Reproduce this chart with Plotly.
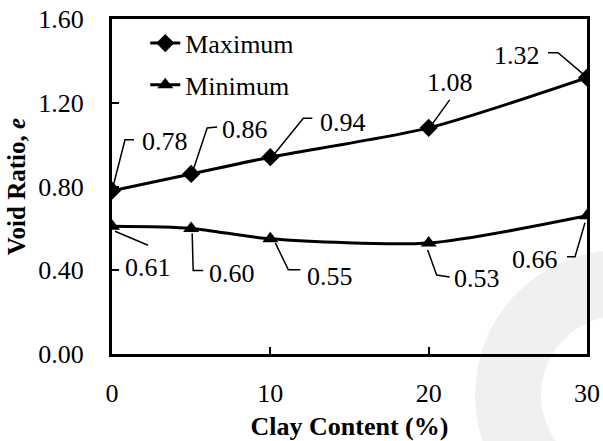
import plotly.graph_objects as go

# ---- data ----
clay_content = [0, 5, 10, 20, 30]
e_max = [0.78, 0.86, 0.94, 1.08, 1.32]
e_min = [0.61, 0.60, 0.55, 0.53, 0.66]
y_ticks = [0.0, 0.4, 0.8, 1.2, 1.6]
x_ticks = [0, 10, 20, 30]

FONT = "Liberation Serif"
FS = 26

fig = go.Figure()
fig.add_trace(go.Scatter(
    x=clay_content, y=e_max, name="Maximum", mode="lines+markers", legendgroup="max",
    line=dict(color="black", width=3, shape="spline", smoothing=0.7),
    marker=dict(symbol="diamond", size=14, color="black"),
))
fig.add_trace(go.Scatter(
    x=clay_content, y=e_min, name="Minimum", mode="lines+markers", legendgroup="min",
    line=dict(color="black", width=3, shape="spline", smoothing=0.7),
    marker=dict(symbol="triangle-up", size=14, color="black"),
))

# leader-line geometry (pixel offsets from each point, +down) and label offsets
max_leaders = [
    ([(1, -4), (13, -51), (22, -51)], (53, -49)),
    ([(2, -4), (16, -46), (26, -47)], (54, -44)),
    ([(3, -2), (33, -39), (42, -39)], (73, -35)),
    ([(21, -28), (3, -3)], (21, -45)),
    ([(-39, -25), (-29, -25), (-2, -2)], (-70, -22)),
]
min_leaders = [
    ([(3, 5), (36, 19)], (36, 41)),
    ([(1, 5), (2, 42), (12, 42)], (41, 45)),
    ([(5, 4), (18, 31), (30, 31)], (60, 38)),
    ([(-1, 7), (8, 32), (21, 34)], (48, 35)),
    ([(-2, 7), (-12, 41), (-20, 41)], (-52, 44)),
]

shapes = []
annotations = []
for xs, ys, leaders in ((clay_content, e_max, max_leaders), (clay_content, e_min, min_leaders)):
    for xv, yv, (pts, (tx, ty)) in zip(xs, ys, leaders):
        path = "M" + " L".join(f"{dx},{-dy}" for dx, dy in pts)
        shapes.append(dict(type="path", xref="x", yref="y", xsizemode="pixel", ysizemode="pixel",
                           xanchor=xv, yanchor=yv, path=path,
                           line=dict(color="black", width=1.5), layer="above"))
        annotations.append(dict(x=xv, y=yv, xref="x", yref="y", text=f"{yv:.2f}", showarrow=False,
                                xshift=tx, yshift=-ty, xanchor="center", yanchor="middle",
                                font=dict(family=FONT, size=FS, color="black")))

# faint watermark ring (background decoration)
shapes.append(dict(type="circle", xref="paper", yref="paper",
                   x0=(508 - 112) / 475, x1=(732 - 112) / 475,
                   y0=(354 - 507) / 335, y1=(354 - 283) / 335,
                   line=dict(color="#f0f0f0", width=66), layer="below"))

fig.update_layout(
    width=603, height=441,
    margin=dict(l=112, r=16, t=19, b=87),
    paper_bgcolor="white", plot_bgcolor="rgba(0,0,0,0)",
    font=dict(family=FONT, size=FS, color="black"),
    showlegend=True,
    legend=dict(x=0.07, y=0.998, xanchor="left", yanchor="top",
                bgcolor="rgba(0,0,0,0)", font=dict(family=FONT, size=FS),
                tracegroupgap=5, itemwidth=30),
    shapes=shapes, annotations=annotations,
)
fig.update_xaxes(
    range=[0, 30], tickvals=x_ticks, ticktext=[str(v) for v in x_ticks],
    showline=True, mirror=True, linecolor="black", linewidth=3,
    ticks="inside", ticklen=7, tickwidth=2, tickcolor="black",
    showgrid=False, zeroline=False, ticklabelstandoff=14, automargin=False,
    tickfont=dict(family=FONT, size=FS),
    title=dict(text="<b>Clay Content (%)</b>", font=dict(family=FONT, size=26), standoff=16),
)
fig.update_yaxes(
    range=[0, 1.6], tickvals=y_ticks, ticktext=[f"{v:.2f}" for v in y_ticks],
    showline=True, mirror=True, linecolor="black", linewidth=3,
    ticks="inside", ticklen=7, tickwidth=2, tickcolor="black",
    showgrid=False, zeroline=False, ticklabelstandoff=20, automargin=False,
    tickfont=dict(family=FONT, size=FS),
    title=dict(text="<b>Void Ratio, <i>e</i></b>", font=dict(family=FONT, size=25), standoff=6),
)

fig.write_html("out.html")
